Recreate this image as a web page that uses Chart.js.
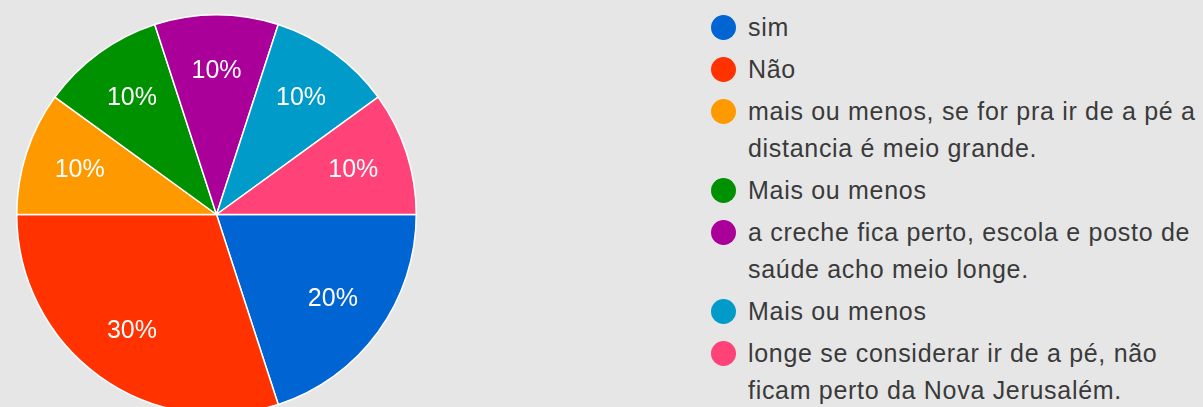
<!DOCTYPE html>
<html>
<head>
<meta charset="utf-8">
<script src="https://cdn.jsdelivr.net/npm/chart.js@4"></script>
<style>
  html, body { margin: 0; padding: 0; background: #e6e6e6; overflow: hidden; }
  body { width: 1203px; height: 407px; position: relative; font-family: "Liberation Sans", Arial, sans-serif; }
  #pie-wrap { position: absolute; left: 0; top: 0; width: 433px; height: 430px; }
  #legend { position: absolute; left: 710px; top: 9px; width: 493px; margin: 0; padding: 0; list-style: none; }
  #legend li { position: relative; padding-left: 38px; font-size: 25px; letter-spacing: 0.7px; line-height: 37px; color: #3a3a3a; margin-bottom: 5px; }
  #legend li .dot { position: absolute; left: 1px; top: 6px; width: 25px; height: 25px; border-radius: 50%; }
</style>
</head>
<body>
<div id="pie-wrap"><canvas id="pie"></canvas></div>
<ul id="legend"></ul>
<script>
  // Answers, counts and slice colours (clockwise from 3 o'clock)
  const answers = [
    'sim',
    'Não',
    'mais ou menos, se for pra ir de a pé a distancia é meio grande.',
    'Mais ou menos',
    'a creche fica perto, escola e posto de saúde acho meio longe.',
    'Mais ou menos',
    'longe se considerar ir de a pé, não ficam perto da Nova Jerusalém.'
  ];
  const counts = [2, 3, 1, 1, 1, 1, 1];
  const colors = ['#0064d2', '#ff3200', '#ff9900', '#009100', '#aa0099', '#009bc8', '#ff4278'];

  // Percentage text inside each slice
  const sliceLabels = {
    id: 'sliceLabels',
    afterDatasetsDraw(chart) {
      const ctx = chart.ctx;
      const meta = chart.getDatasetMeta(0);
      const total = counts.reduce((a, b) => a + b, 0);
      ctx.save();
      ctx.fillStyle = '#ffffff';
      ctx.font = '25px "Liberation Sans", Arial, sans-serif';
      ctx.textAlign = 'center';
      ctx.textBaseline = 'middle';
      meta.data.forEach((arc, i) => {
        const p = arc.getProps(['x', 'y', 'startAngle', 'endAngle', 'outerRadius'], true);
        const mid = (p.startAngle + p.endAngle) / 2;
        const r = p.outerRadius * 0.72;
        const pct = Math.round(counts[i] / total * 100) + '%';
        ctx.fillText(pct, p.x + Math.cos(mid) * r, p.y + Math.sin(mid) * r);
      });
      ctx.restore();
    }
  };

  new Chart(document.getElementById('pie'), {
    type: 'pie',
    data: {
      labels: answers,
      datasets: [{
        data: counts,
        backgroundColor: colors,
        borderColor: '#ffffff',
        borderWidth: 1.5
      }]
    },
    options: {
      responsive: true,
      maintainAspectRatio: false,
      animation: false,
      rotation: 90,
      layout: { padding: { left: 16, top: 14, right: 16, bottom: 15 } },
      plugins: {
        legend: { display: false },
        tooltip: { enabled: false }
      }
    },
    plugins: [sliceLabels]
  });

  // Legend list on the right
  const legend = document.getElementById('legend');
  answers.forEach((text, i) => {
    const li = document.createElement('li');
    li.innerHTML = `<span class="dot" style="background:${colors[i]}"></span>${text}`;
    legend.appendChild(li);
  });
</script>
</body>
</html>
